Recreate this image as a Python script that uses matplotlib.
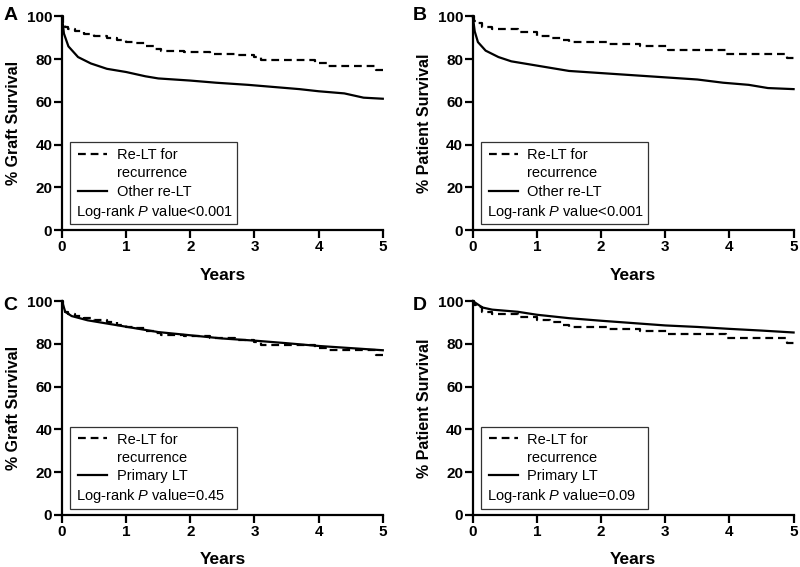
import matplotlib
matplotlib.use("Agg")
import matplotlib.pyplot as plt
from matplotlib.lines import Line2D
from matplotlib.patches import Rectangle

plt.rcParams['font.family'] = ['Liberation Sans', 'DejaVu Sans']
plt.rcParams['mathtext.fontset'] = 'custom'
plt.rcParams['mathtext.rm'] = 'Liberation Sans'
plt.rcParams['mathtext.it'] = 'Liberation Sans:italic'

# Re-LT for recurrence, graft survival (KM steps)
rec_graft_t = [0, 0.02, 0.05, 0.1, 0.2, 0.35, 0.5, 0.7, 0.85, 1.0, 1.15, 1.3,
               1.45, 1.55, 1.9, 2.3, 2.7, 3.0, 3.1, 3.7, 3.95, 4.15, 4.85, 4.9, 5.0]
rec_graft_s = [100, 97, 95, 94, 93, 92, 91, 90, 89, 88, 87.5, 86,
               85, 84, 83.5, 82.5, 82, 81, 79.5, 79.5, 78, 77, 77, 75, 75]

# Re-LT for recurrence, patient survival (KM steps)
rec_pat_t = [0, 0.02, 0.05, 0.15, 0.3, 0.6, 0.7, 1.0, 1.2, 1.4, 1.5, 2.1,
             2.6, 3.05, 3.95, 4.85, 4.9, 5.0]
rec_pat_s = [100, 98, 97, 95, 94, 94, 92.5, 91, 90, 89, 88, 87,
             86, 84.5, 82.5, 82.5, 80.5, 80.5]

# Other re-LT
other_graft_t = [0, 0.03, 0.1, 0.25, 0.45, 0.7, 1.0, 1.3, 1.5, 2.0, 2.4, 2.9,
                 3.3, 3.7, 4.0, 4.4, 4.7, 5.0]
other_graft_s = [100, 92, 86, 81, 78, 75.5, 74, 72, 71, 70, 69, 68,
                 67, 66, 65, 64, 62, 61.5]
other_pat_t = [0, 0.03, 0.08, 0.2, 0.4, 0.6, 1.0, 1.3, 1.5, 2.0, 2.5, 3.0,
               3.5, 3.9, 4.3, 4.6, 5.0]
other_pat_s = [100, 93, 88, 84, 81, 79, 77, 75.5, 74.5, 73.5, 72.5, 71.5,
               70.5, 69, 68, 66.5, 66]

# Primary LT
prim_graft_t = [0, 0.05, 0.15, 0.4, 0.8, 1.0, 1.5, 2.0, 2.5, 3.0, 3.5, 4.0, 4.5, 5.0]
prim_graft_s = [100, 95, 93, 91, 89, 88, 85.5, 84, 82.5, 81.5, 80.3, 79, 78, 77]
prim_pat_t = [0, 0.15, 0.3, 0.7, 1.0, 1.5, 2.0, 2.5, 3.0, 3.5, 4.0, 4.5, 5.0]
prim_pat_s = [100, 97, 96, 95, 93.6, 92, 90.8, 89.7, 88.6, 87.9, 87, 86.2, 85.3]

panels = [
    ("A", "% Graft Survival", rec_graft_t, rec_graft_s, other_graft_t, other_graft_s,
     "Other re-LT", "<0.001"),
    ("B", "% Patient Survival", rec_pat_t, rec_pat_s, other_pat_t, other_pat_s,
     "Other re-LT", "<0.001"),
    ("C", "% Graft Survival", rec_graft_t, rec_graft_s, prim_graft_t, prim_graft_s,
     "Primary LT", "=0.45"),
    ("D", "% Patient Survival", rec_pat_t, rec_pat_s, prim_pat_t, prim_pat_s,
     "Primary LT", "=0.09"),
]

positions = [
    [0.0775, 0.594, 0.401, 0.377],
    [0.591, 0.594, 0.401, 0.377],
    [0.0775, 0.092, 0.401, 0.377],
    [0.591, 0.092, 0.401, 0.377],
]
letter_pos = [(0.004, 0.988), (0.516, 0.988), (0.004, 0.477), (0.516, 0.477)]

fig = plt.figure(figsize=(8, 5.67), dpi=100)

for (letter, ylab, t1, s1, t2, s2, lab2, pval), pos, lp in zip(panels, positions, letter_pos):
    ax = fig.add_axes(pos)
    ax.plot(t1, s1, color='black', lw=1.6, ls=(0, (3.5, 2.2)), drawstyle='steps-post',
            clip_on=False)
    ax.plot(t2, s2, color='black', lw=1.6, clip_on=False)

    ax.set_xlim(0, 5)
    ax.set_ylim(0, 100)
    ax.set_xticks([0, 1, 2, 3, 4, 5])
    ax.set_yticks([0, 20, 40, 60, 80, 100])
    for sp in ['top', 'right']:
        ax.spines[sp].set_visible(False)
    for sp in ['left', 'bottom']:
        ax.spines[sp].set_linewidth(1.6)
    ax.tick_params(direction='out', length=5.5, width=1.6, pad=1.5, labelsize=11)
    for lbl in ax.get_xticklabels() + ax.get_yticklabels():
        lbl.set_fontweight('bold')
    ax.set_ylabel(ylab, fontsize=11.5, fontweight='bold', labelpad=4)
    ax.set_xlabel("Years", fontsize=12.5, fontweight='bold', labelpad=10)

    # legend box
    ax.add_patch(Rectangle((0.025, 0.028), 0.521, 0.385, transform=ax.transAxes,
                           fill=False, ec='#333333', lw=0.9, zorder=3))
    handles = [Line2D([], [], color='black', lw=1.6, ls=(0, (3.5, 2.2))),
               Line2D([], [], color='none'),
               Line2D([], [], color='black', lw=1.6)]
    ax.legend(handles, ["Re-LT for", "recurrence", lab2], loc='upper left',
              bbox_to_anchor=(0.05, 0.385), frameon=False, fontsize=10.5,
              handlelength=2.0, handletextpad=0.65, labelspacing=0.3,
              borderpad=0, borderaxespad=0)
    ax.text(0.044, 0.086, "Log-rank $\\mathit{P}$ value" + pval, transform=ax.transAxes,
            fontsize=10.5, va='center', ha='left')

    fig.text(lp[0], lp[1], letter, fontsize=14, fontweight='bold', va='top', ha='left')

fig.savefig("out.png", dpi=100)
